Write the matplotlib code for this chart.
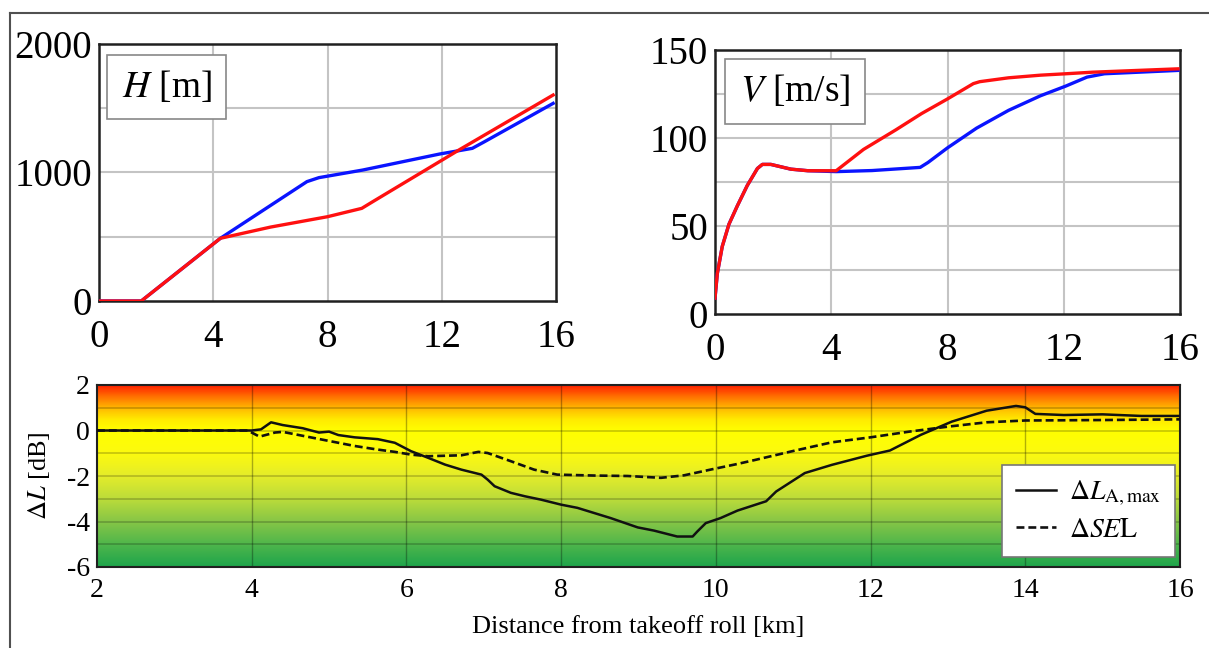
import numpy as np
import matplotlib
matplotlib.use("Agg")
import matplotlib.pyplot as plt
from matplotlib.colors import LinearSegmentedColormap
from matplotlib.lines import Line2D

plt.rcParams['font.family'] = ['Liberation Serif', 'DejaVu Serif']
plt.rcParams['mathtext.fontset'] = 'stix'
plt.rcParams['axes.unicode_minus'] = False

# ---------------- data ----------------
# Altitude H [m] vs distance [km]
h_blue_x = [0, 1.48, 4.25, 7.28, 7.7, 9.23, 11.93, 13.07, 13.5, 15.9]
h_blue_y = [0, 0, 488, 929, 960, 1019, 1144, 1188, 1240, 1538]
h_red_x = [0, 1.48, 4.25, 6.0, 8.0, 9.2, 9.6, 12.6, 15.9]
h_red_y = [0, 0, 488, 575, 656, 721, 775, 1175, 1603]

# Speed V [m/s] vs distance [km]
v_blue_x = [0.0, 0.08, 0.25, 0.48, 0.77, 1.11, 1.46, 1.63, 1.92, 2.61, 3.2, 4.17, 5.4, 7.06,
            7.33, 8.0, 9.0, 10.1, 11.2, 12.07, 12.8, 13.4, 15.93]
v_blue_y = [9, 23, 38.4, 51, 61.5, 73, 82.7, 85, 85, 82.3, 81.4, 80.9, 81.5, 83.3,
            86.1, 94.4, 105.6, 115.7, 124, 129.5, 134.6, 136.5, 138.4]
v_red_x = [0.0, 0.08, 0.25, 0.48, 0.77, 1.11, 1.46, 1.63, 1.92, 2.61, 3.2, 4.17, 5.11, 6.22,
           7.11, 8.0, 8.89, 9.11, 10.1, 11.2, 12.07, 13.0, 15.93]
v_red_y = [9, 23, 38.4, 51, 61.5, 73, 82.7, 85, 85, 82.3, 81.4, 81.4, 93.5, 104.6,
           113.9, 122.2, 130.9, 132, 134.2, 135.7, 136.5, 137.4, 139.3]

# Noise differences [dB]
dl_x = [2.0, 4.0, 4.12, 4.25, 4.4, 4.66, 4.87, 5.0, 5.12, 5.33, 5.63, 5.85, 6.06, 6.28, 6.5,
        6.71, 6.97, 7.05, 7.14, 7.35, 7.53, 7.74, 8.0, 8.21, 8.64, 8.99, 9.2, 9.5, 9.7, 9.76,
        9.87, 10.06, 10.28, 10.65, 10.78, 11.15, 11.5, 11.95, 12.25, 12.65, 13.05, 13.5, 13.88,
        14.0, 14.13, 14.5, 15.0, 15.5, 16.0]
dl_amax = [0, 0, 0.05, 0.36, 0.24, 0.1, -0.09, -0.05, -0.2, -0.3, -0.38, -0.54, -0.91, -1.2,
           -1.5, -1.72, -1.94, -2.16, -2.45, -2.74, -2.89, -3.04, -3.26, -3.4, -3.85, -4.26,
           -4.4, -4.66, -4.66, -4.44, -4.07, -3.85, -3.52, -3.11, -2.68, -1.87, -1.51, -1.11,
           -0.88, -0.19, 0.39, 0.87, 1.08, 1.02, 0.73, 0.68, 0.71, 0.64, 0.64]
dsel_x = [2.0, 3.95, 4.1, 4.3, 4.4, 4.82, 5.33, 5.63, 5.85, 6.06, 6.28, 6.71, 6.93, 7.05, 7.35,
          7.65, 7.95, 8.43, 8.86, 9.29, 9.59, 9.93, 10.28, 10.5, 11.0, 11.5, 12.0, 12.5, 13.0,
          13.5, 14.0, 15.0, 16.0]
dsel = [0, 0, -0.27, -0.09, -0.06, -0.34, -0.68, -0.84, -0.94, -1.06, -1.13, -1.09, -0.94,
        -0.99, -1.35, -1.72, -1.94, -1.98, -2.0, -2.08, -1.97, -1.72, -1.47, -1.3, -0.9,
        -0.52, -0.3, -0.05, 0.17, 0.36, 0.44, 0.46, 0.49]

top_xticks = [0, 4, 8, 12, 16]
h_ticks = [0, 1000, 2000]
v_ticks = [0, 50, 100, 150]
bot_xticks = [2, 4, 6, 8, 10, 12, 14, 16]
bot_yticks = [-6, -4, -2, 0, 2]

# ---------------- figure ----------------
W, H = 1209, 648
fig = plt.figure(figsize=(W / 100, H / 100), dpi=100)

def box(l, t, r, b):
    return [l / W, 1 - b / H, (r - l) / W, (b - t) / H]

grid_c = '#c4c4c4'

# outer frame
fig.add_artist(Line2D([10 / W, 1.0], [1 - 13 / H, 1 - 13 / H], color='#505050', lw=1.5))
fig.add_artist(Line2D([10 / W, 10 / W], [1 - 13 / H, 0.0], color='#505050', lw=1.5))

def style_top(ax, yt):
    ax.set_xlim(0, 16)
    ax.set_xticks(top_xticks)
    ax.set_yticks(yt)
    ax.tick_params(length=0, labelsize=28)
    ax.tick_params(axis='x', pad=13)
    ax.tick_params(axis='y', pad=5)
    for s in ax.spines.values():
        s.set_linewidth(1.8)
        s.set_color('#202020')

# H panel
ax1 = fig.add_axes(box(99, 44, 556, 301))
ax1.set_ylim(0, 2000)
style_top(ax1, h_ticks)
for xv in [4, 8, 12]:
    ax1.axvline(xv, color=grid_c, lw=1.5, zorder=0)
for yv in [500, 1000, 1500]:
    ax1.axhline(yv, color=grid_c, lw=1.5, zorder=0)
ax1.plot(h_blue_x, h_blue_y, color='#0a14ff', lw=2.4, zorder=3)
ax1.plot(h_red_x, h_red_y, color='#ff1010', lw=2.4, zorder=4)
ax1.text(0.148, 0.832, r'$H$ [m]', transform=ax1.transAxes, ha='center', va='center',
         fontsize=27, zorder=6,
         bbox=dict(boxstyle='square,pad=0.38', fc='white', ec='#888888', lw=1.2))

# V panel
ax2 = fig.add_axes(box(715, 50, 1180, 314))
ax2.set_ylim(0, 150)
style_top(ax2, v_ticks)
for xv in [4, 8, 12]:
    ax2.axvline(xv, color=grid_c, lw=1.5, zorder=0)
for yv in [25, 50, 75, 100, 125]:
    ax2.axhline(yv, color=grid_c, lw=1.5, zorder=0)
ax2.plot(v_blue_x, v_blue_y, color='#0a14ff', lw=2.4, zorder=3)
ax2.plot(v_red_x, v_red_y, color='#ff1010', lw=2.4, zorder=4)
ax2.text(0.172, 0.843, r'$V$ [m/s]', transform=ax2.transAxes, ha='center', va='center',
         fontsize=27, zorder=6,
         bbox=dict(boxstyle='square,pad=0.38', fc='white', ec='#888888', lw=1.2))

# Delta L panel
ax3 = fig.add_axes(box(97, 385, 1180, 567))
ax3.set_xlim(2, 16)
ax3.set_ylim(-6, 2)
stops = [(0.0, (30/255, 165/255, 75/255)),
         (1/8, (80/255, 182/255, 75/255)),
         (2/8, (135/255, 198/255, 70/255)),
         (3/8, (188/255, 220/255, 58/255)),
         (4/8, (228/255, 236/255, 42/255)),
         (5/8, (252/255, 250/255, 15/255)),
         (6/8, (255/255, 255/255, 0/255)),
         (6.5/8, (255/255, 235/255, 0/255)),
         (7/8, (255/255, 185/255, 0/255)),
         (7.5/8, (255/255, 115/255, 0/255)),
         (1.0, (255/255, 35/255, 0/255))]
cmap = LinearSegmentedColormap.from_list('noise', stops)
grad = np.linspace(0, 1, 400).reshape(-1, 1)
ax3.imshow(grad, cmap=cmap, origin='lower', extent=[2, 16, -6, 2], aspect='auto',
           zorder=0, interpolation='bilinear')
for xv in [4, 6, 8, 10, 12, 14]:
    ax3.axvline(xv, color='#000000', alpha=0.3, lw=1.0, zorder=1)
for yv in [-5, -4, -3, -2, -1, 0, 1]:
    ax3.axhline(yv, color='#000000', alpha=0.22, lw=1.2, zorder=1)
ax3.plot(dl_x, dl_amax, color='#111111', lw=1.8, zorder=4,
         label=r'$\Delta L_{\mathrm{A,max}}$')
ax3.plot(dsel_x, dsel, color='#111111', lw=1.9, ls=(0, (3, 1.5)), zorder=4,
         label=r'$\Delta SE\mathrm{L}$')
ax3.set_xticks(bot_xticks)
ax3.set_yticks(bot_yticks)
ax3.tick_params(length=0, labelsize=20)
ax3.tick_params(axis='x', pad=8)
ax3.tick_params(axis='y', pad=5)
for s in ax3.spines.values():
    s.set_linewidth(1.5)
    s.set_color('#202020')
ax3.set_xlabel('Distance from takeoff roll [km]', fontsize=19)
ax3.xaxis.set_label_coords(0.5, -0.27)
ax3.set_ylabel(r'$\Delta L$ [dB]', fontsize=19)
ax3.yaxis.set_label_coords(-0.042, 0.5)
leg = ax3.legend(loc='lower right', bbox_to_anchor=(0.995, 0.055), fontsize=20,
                 frameon=True, fancybox=False, edgecolor='#777777', framealpha=1.0,
                 handlelength=1.45, handletextpad=0.45, borderpad=0.5, labelspacing=0.35,
                 borderaxespad=0.0)
leg.get_frame().set_linewidth(1.2)
leg.set_zorder(6)

fig.savefig('out.png', dpi=100)
